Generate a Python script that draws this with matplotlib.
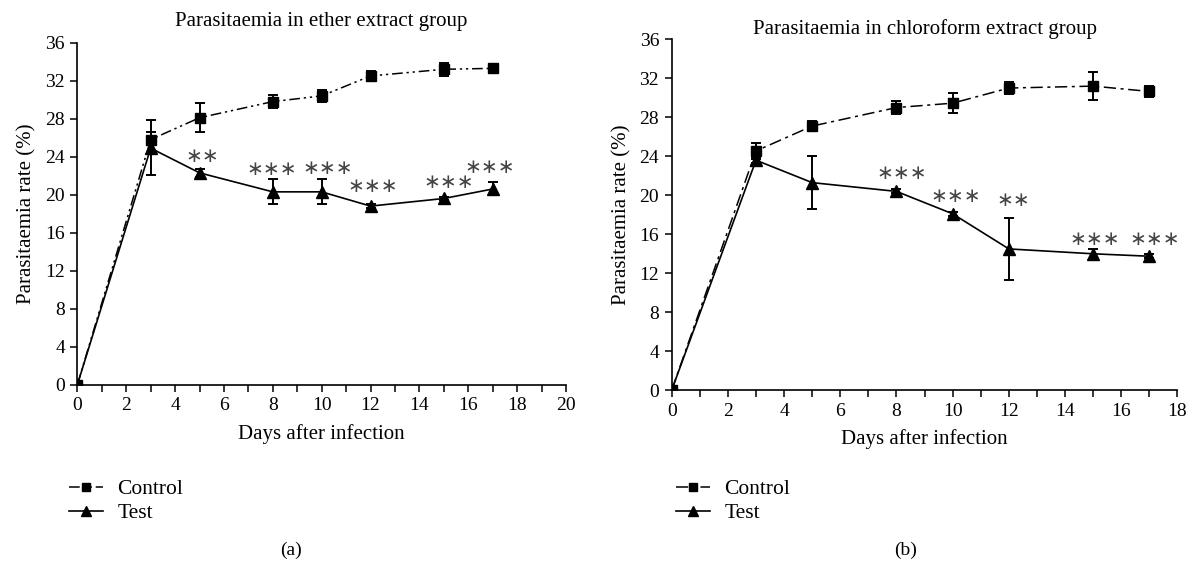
import matplotlib
matplotlib.use("Agg")
import matplotlib.pyplot as plt
from matplotlib.lines import Line2D

plt.rcParams['font.family'] = ['Liberation Serif', 'DejaVu Serif']

# (a) ether extract group
days_a = [0, 3, 5, 8, 10, 12, 15, 17]
control_a = [0, 25.8, 28.1, 29.8, 30.4, 32.5, 33.2, 33.3]
control_a_lo = [0, 0.6, 1.55, 0.65, 0.65, 0.55, 0.7, 0.5]
control_a_hi = [0, 2.1, 1.55, 0.65, 0.65, 0.55, 0.7, 0.5]
test_a = [0, 24.9, 22.3, 20.3, 20.3, 18.8, 19.6, 20.6]
test_a_lo = [0, 2.8, 0.4, 1.3, 1.3, 0.2, 0.2, 0.5]
test_a_hi = [0, 1.7, 0.4, 1.3, 1.3, 0.2, 0.2, 0.7]
stars_a = ['∗∗', '∗∗∗', '∗∗∗', '∗∗∗', '∗∗∗', '∗∗∗']
stars_a_x = [5.1, 7.95, 10.25, 12.1, 15.2, 16.9]
stars_a_y = [24.0, 22.7, 22.8, 20.9, 21.3, 22.9]

# (b) chloroform extract group
days_b = [0, 3, 5, 8, 10, 12, 15, 17]
control_b = [0, 24.55, 27.1, 29.0, 29.45, 31.0, 31.2, 30.65]
control_b_err = [0, 0.85, 0.55, 0.65, 1.0, 0.6, 1.45, 0.55]
test_b = [0, 23.6, 21.3, 20.4, 18.1, 14.5, 14.0, 13.75]
test_b_err = [0, 0.3, 2.7, 0.2, 0.2, 3.15, 0.5, 0.2]
stars_b = ['∗∗∗', '∗∗∗', '∗∗', '∗∗∗', '∗∗∗']
stars_b_x = [8.2, 10.1, 12.15, 15.05, 17.2]
stars_b_y = [22.2, 19.9, 19.5, 15.5, 15.5]

fig = plt.figure(figsize=(11.96, 5.64), dpi=100)
ax1 = fig.add_axes([0.0647, 0.3179, 0.4085, 0.6064])
ax2 = fig.add_axes([0.5616, 0.308, 0.4229, 0.6223])

ctrl_dash_a = (0, (7, 2.5, 1.5, 2.5, 1.5, 2.5))
ctrl_dash_b = (0, (8, 3, 2, 3))


def draw_panel(ax, days, ctrl, ctrl_err, test, test_err, stars, stars_x, stars_y,
               ctrl_ls, xmax, title, tpad):
    ax.plot(days, ctrl, color='black', lw=1.1, linestyle=ctrl_ls, marker='s', ms=6.5, zorder=3)
    ax.plot(days, test, color='black', lw=1.2, linestyle='-', marker='^', ms=8, zorder=3)
    ax.errorbar(days, ctrl, yerr=ctrl_err, fmt='none', ecolor='black', elinewidth=1.4,
                capsize=3.5, capthick=1.4, zorder=4)
    ax.errorbar(days, test, yerr=test_err, fmt='none', ecolor='black', elinewidth=1.4,
                capsize=3.5, capthick=1.4, zorder=4)
    for s, sx, sy in zip(stars, stars_x, stars_y):
        ax.text(sx, sy, s, ha='center', va='center', fontsize=14.5, color='#444444',
                family=['DejaVu Sans'])
    ax.set_xlim(0, xmax)
    ax.set_ylim(0, 36)
    ax.set_xticks(range(0, xmax + 1, 2))
    ax.set_xticks(range(1, xmax, 2), minor=True)
    ax.set_yticks(range(0, 37, 4))
    ax.spines['top'].set_visible(False)
    ax.spines['right'].set_visible(False)
    ax.spines['left'].set_linewidth(1.2)
    ax.spines['bottom'].set_linewidth(1.2)
    ax.tick_params(axis='both', which='both', direction='out', length=5, width=1.1,
                   labelsize=14, pad=4)
    ax.set_xlabel('Days after infection', fontsize=15, labelpad=7)
    ax.set_ylabel('Parasitaemia rate (%)', fontsize=15, labelpad=6)
    ax.set_title(title, fontsize=15, pad=tpad)
    for lab in ax.get_xticklabels() + ax.get_yticklabels():
        lab.set_clip_on(False)


draw_panel(ax1, days_a, control_a, [control_a_lo, control_a_hi], test_a, [test_a_lo, test_a_hi],
           stars_a, stars_a_x, stars_a_y, ctrl_dash_a, 20,
           'Parasitaemia in ether extract group', 12)
draw_panel(ax2, days_b, control_b, control_b_err, test_b, test_b_err,
           stars_b, stars_b_x, stars_b_y, ctrl_dash_b, 18,
           'Parasitaemia in chloroform extract group', 3)

for ax, ls, lx, cap, cx in [(ax1, ctrl_dash_a, 0.0505, '(a)', 0.243), (ax2, ctrl_dash_b, 0.558, '(b)', 0.757)]:
    handles = [Line2D([], [], color='black', lw=1.1, linestyle=ls, marker='s', ms=5.5),
               Line2D([], [], color='black', lw=1.2, marker='^', ms=6.5)]
    fig.legend(handles, ['Control', 'Test'], loc='upper left', bbox_to_anchor=(lx, 0.166),
               frameon=False, fontsize=15.5, handlelength=1.6, handletextpad=0.65,
               labelspacing=0.2, borderaxespad=0)
    fig.text(cx, 0.025, cap, ha='center', va='center', fontsize=14)

fig.savefig('out.png', dpi=100)
